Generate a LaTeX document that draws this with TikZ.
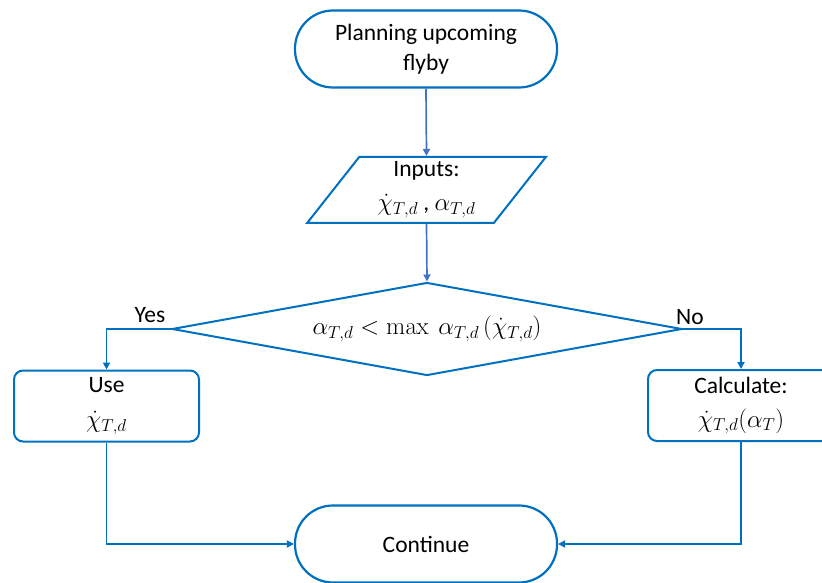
\documentclass[tikz,border=0pt]{standalone}
\usepackage[no-math]{fontspec}
\setmainfont{Carlito}
\usetikzlibrary{shapes.geometric,arrows.meta}
\definecolor{shapeblue}{RGB}{0,112,192}
\definecolor{lineblue}{RGB}{68,114,196}

\begin{document}
\begin{tikzpicture}[x=1pt,y=1pt,font=\fontsize{23.5}{30}\selectfont,>={Triangle[length=7pt,width=7pt]},
  term/.style={draw=shapeblue,line width=2.2pt,rounded corners=38pt,minimum width=262pt,minimum height=77pt,align=center,inner sep=0pt},
  io/.style={draw=shapeblue,line width=2pt,trapezium,trapezium left angle=56,trapezium right angle=124,trapezium stretches=true,minimum width=239pt,minimum height=66pt,align=center,inner sep=0pt},
  decide/.style={draw=shapeblue,line width=2pt,diamond,shape aspect=5.5,minimum width=510pt,minimum height=93pt,inner sep=0pt},
  proc/.style={draw=shapeblue,line width=2pt,rounded corners=9pt,minimum width=185pt,minimum height=71pt,align=center,inner sep=0pt},
  link/.style={draw=lineblue,line width=1.7pt,->}]
  \useasboundingbox (0,0) rectangle (822,582);
  % shapes
  \node[term] (start) at (426,533) {Planning upcoming\\flyby};
  \node[io] (inputs) at (426.5,392) {Inputs:\\[4pt]$\dot{\chi}_{T,d}$ , $\alpha_{T,d}$};
  \node[decide] (check) at (427,253) {$\alpha_{T,d} < \max\ \alpha_{T,d}\,(\dot{\chi}_{T,d})$};
  \node[proc] (use) at (106.5,176) {Use\\[5pt]$\dot{\chi}_{T,d}$};
  \node[proc,minimum width=186pt] (calc) at (741,176.5) {Calculate:\\[4pt]$\dot{\chi}_{T,d}(\alpha_T)$};
  \node[term] (cont) at (426,38) {Continue};
  % branch labels
  \node (yes) at (150,267) {Yes};
  \node (no) at (690,265) {No};
  % connectors
  \draw[link] (start.south) -- (inputs.north);
  \draw[link] (inputs.south) -- (check.north);
  \draw[link,draw=shapeblue] (check.west) -| (use.north);
  \draw[link,draw=shapeblue] (check.east) -| (calc.north);
  \draw[link,draw=shapeblue] (use.south) |- (cont.west);
  \draw[link,draw=shapeblue] (calc.south) |- (cont.east);
\end{tikzpicture}
\end{document}
